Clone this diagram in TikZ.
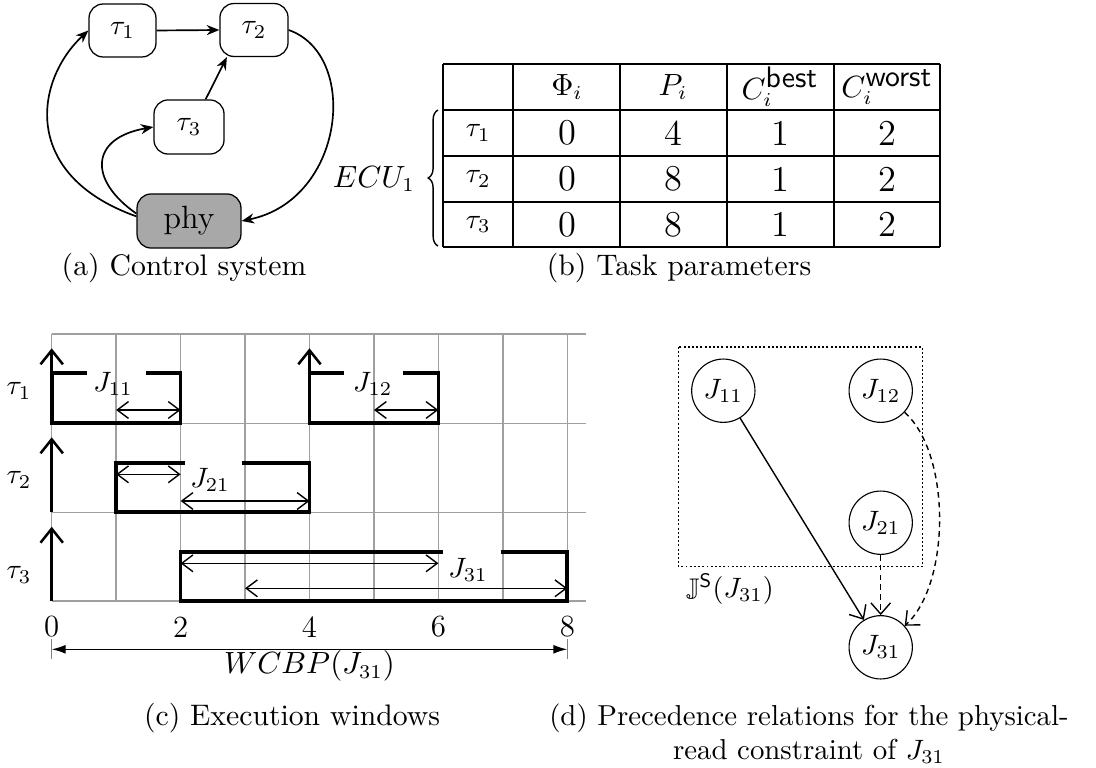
\documentclass[tikz,border=0pt]{standalone}
\usepackage{amssymb}
\usetikzlibrary{arrows.meta,decorations.pathreplacing,calc}
\definecolor{phygray}{HTML}{A8A8A8}
\definecolor{gridgray}{HTML}{A0A0A0}
\begin{document}
\begin{tikzpicture}[x=0.357pt,y=-0.357pt,font=\fontsize{10.6}{12.7}\selectfont,
  task/.style={draw, rounded corners=5pt, line width=0.45pt, font=\fontsize{9.8}{11}\selectfont, inner sep=0pt},
  flow/.style={-{Stealth[length=4.5pt,width=3.6pt]}, line width=0.6pt},
  gridline/.style={draw=gridgray, line width=0.5pt},
  win/.style={line width=1.3pt},
  rel/.style={-{Straight Barb[length=5pt,width=8pt]}, line width=0.9pt},
  dur/.style={{Straight Barb[length=4pt,width=6pt]}-{Straight Barb[length=4pt,width=6pt]}, line width=0.5pt},
  job/.style={circle, draw, minimum size=22.6pt, inner sep=0pt, line width=0.4pt, font=\fontsize{9.6}{11}\selectfont},
  prec/.style={-{Straight Barb[length=4pt,width=7pt]}, line width=0.5pt},
  tab/.style={line width=0.6pt},
  cell/.style={font=\fontsize{13}{15}\selectfont},
  axisnum/.style={font=\fontsize{11}{13}\selectfont},
  lbl/.style={font=\fontsize{9.6}{11}\selectfont},
  captxt/.style={font=\fontsize{10.6}{12.7}\selectfont}]
\useasboundingbox (0,0) rectangle (1096,767);

% ---------- (a) Control system ----------
\node[task, minimum width=23.9pt, minimum height=18.9pt] (t1) at (122.5,30.5) {$\tau_1$};
\node[task, minimum width=24.3pt, minimum height=18.9pt] (t2) at (254,30) {$\tau_2$};
\node[task, minimum width=25pt, minimum height=19.3pt] (t3) at (189,127) {$\tau_3$};
\node[task, fill=phygray, minimum width=37.1pt, minimum height=19.3pt, font=\fontsize{11.5}{13}\selectfont] (phy) at (189,221) {phy};
\draw[flow] (t1.east) -- (t2.west);
\draw[flow] (t3.59) -- (t2.225);
\draw[flow] (phy.175) .. controls (20,175) and (35,80) .. (t1.west);
\draw[flow] (phy.172) .. controls (88,180) and (90,138) .. (t3.west);
\draw[flow] (t2.east) .. controls (360,55) and (345,200) .. (phy.east);
\node[captxt] (capa) at (184,268) {(a) Control system};

% ---------- (b) Task parameters ----------
\foreach \x in {443.3,513.3,620,726.7,834,940} \draw[tab] (\x,64) -- (\x,247);
\foreach \y in {64,110,156,202,247} \draw[tab] (443.3,\y) -- (940,\y);
\node (hphi) at (567,87) {$\Phi_i$};
\node (hp) at (673,87) {$P_i$};
\node (hcb) at (780,87) {$C_i^{\textsf{best}}$};
\node (hcw) at (887,87) {$C_i^{\textsf{worst}}$};
\foreach \r/\y/\p in {1/133/4,2/179/8,3/224.5/8}{
  \node[lbl] (rt\r) at (478.3,\y) {$\tau_{\r}$};
  \node[cell] (rphi\r) at (567,\y) {0};
  \node[cell] (rp\r) at (673,\y) {\p};
  \node[cell] (rcb\r) at (780,\y) {1};
  \node[cell] (rcw\r) at (887,\y) {2};
}
\draw[decorate, decoration={brace, amplitude=3.5pt}, line width=0.5pt] (438,246) -- (438,110);
\node (ecu) at (374,179) {$ECU_1$};
\node[captxt] (capb) at (679,268) {(b) Task parameters};

% ---------- (c) Execution windows ----------
\foreach \k in {0,...,8} \draw[gridline] ({51.7+64.45*\k},334) -- ({51.7+64.45*\k},601);
\foreach \y in {334,423.3,512.3,601} \draw[gridline] (51.7,\y) -- (586,\y);
% windows
\draw[win] (87.3,373.3) -- (51.7,373.3) -- (51.7,423.3) -- (180.6,423.3) -- (180.6,373.3) -- (145.7,373.3);
\draw[win] (344.3,373.3) -- (309.5,373.3) -- (309.5,423.3) -- (438.4,423.3) -- (438.4,373.3) -- (402.7,373.3);
\draw[win] (185,463.3) -- (116.15,463.3) -- (116.15,512.3) -- (309.5,512.3) -- (309.5,463.3) -- (242.3,463.3);
\draw[win] (442.7,552.3) -- (180.6,552.3) -- (180.6,601) -- (567.3,601) -- (567.3,552.3) -- (500.7,552.3);
% release arrows
\draw[rel] (51.7,423.3) -- (51.7,348.3);
\draw[rel] (309.5,423.3) -- (309.5,348.3);
\draw[rel] (51.7,512.3) -- (51.7,437.3);
\draw[rel] (51.7,601) -- (51.7,526.7);
% durations
\draw[dur] (116.15,410) -- (180.6,410);
\draw[dur] (373.95,410) -- (438.4,410);
\draw[dur] (116.15,474.3) -- (180.6,474.3);
\draw[dur] (180.6,501) -- (309.5,501);
\draw[dur] (180.6,563.3) -- (438.4,563.3);
\draw[dur] (245.05,588.3) -- (567.3,588.3);
% labels
\node[lbl] (j11l) at (113,384) {$J_{11}$};
\node[lbl] (j12l) at (372.7,384) {$J_{12}$};
\node[lbl] (j21l) at (210,480) {$J_{21}$};
\node[lbl] (j31l) at (468,570) {$J_{31}$};
\node[lbl] (rl1) at (19,391) {$\tau_1$};
\node[lbl] (rl2) at (19,480) {$\tau_2$};
\node[lbl] (rl3) at (19,575) {$\tau_3$};
\foreach \k in {0,2,4,6,8} \node[axisnum] (ax\k) at ({51.7+64.45*\k},627) {\k};
\draw[draw=gray, line width=0.4pt] (51.7,639) -- (51.7,659);
\draw[draw=gray, line width=0.4pt] (567.3,639) -- (567.3,659);
\coordinate (wl) at (51.7,649.3);
\coordinate (wr) at (567.3,649.3);
\draw[{Latex[length=5pt,width=3.2pt]}-{Latex[length=5pt,width=3.2pt]}, line width=0.5pt] (wl) -- (wr);
\node (wcbp) at (309.5,666) {$WCBP(J_{31})$};
\node[captxt] (capc) at (292,718) {(c) Execution windows};

% ---------- (d) Precedence relations ----------
\draw[line width=0.45pt, dash pattern=on 0.7pt off 0.8pt] (678.3,347) rectangle (922.3,566.7);
\node[job] (J11) at (723.3,390.7) {$J_{11}$};
\node[job] (J12) at (880.7,390.7) {$J_{12}$};
\node[job] (J21) at (880.7,522.7) {$J_{21}$};
\node[job] (J31) at (880.7,647.3) {$J_{31}$};
\node[lbl] (js) at (730,589) {$\mathbb{J}^{\mathsf{S}}(J_{31})$};
\draw[prec] (J11) -- (J31);
\draw[prec, dash pattern=on 2pt off 1.5pt] (J21) -- (J31);
\draw[prec, dash pattern=on 2pt off 1.5pt] (J12) .. controls (952,455) and (950,585) .. (J31);
\node[align=center, font=\fontsize{10.3}{12}\selectfont] (capd) at (809,734) {(d) Precedence relations for the physical-\\read constraint of $J_{31}$};
\end{tikzpicture}
\end{document}
